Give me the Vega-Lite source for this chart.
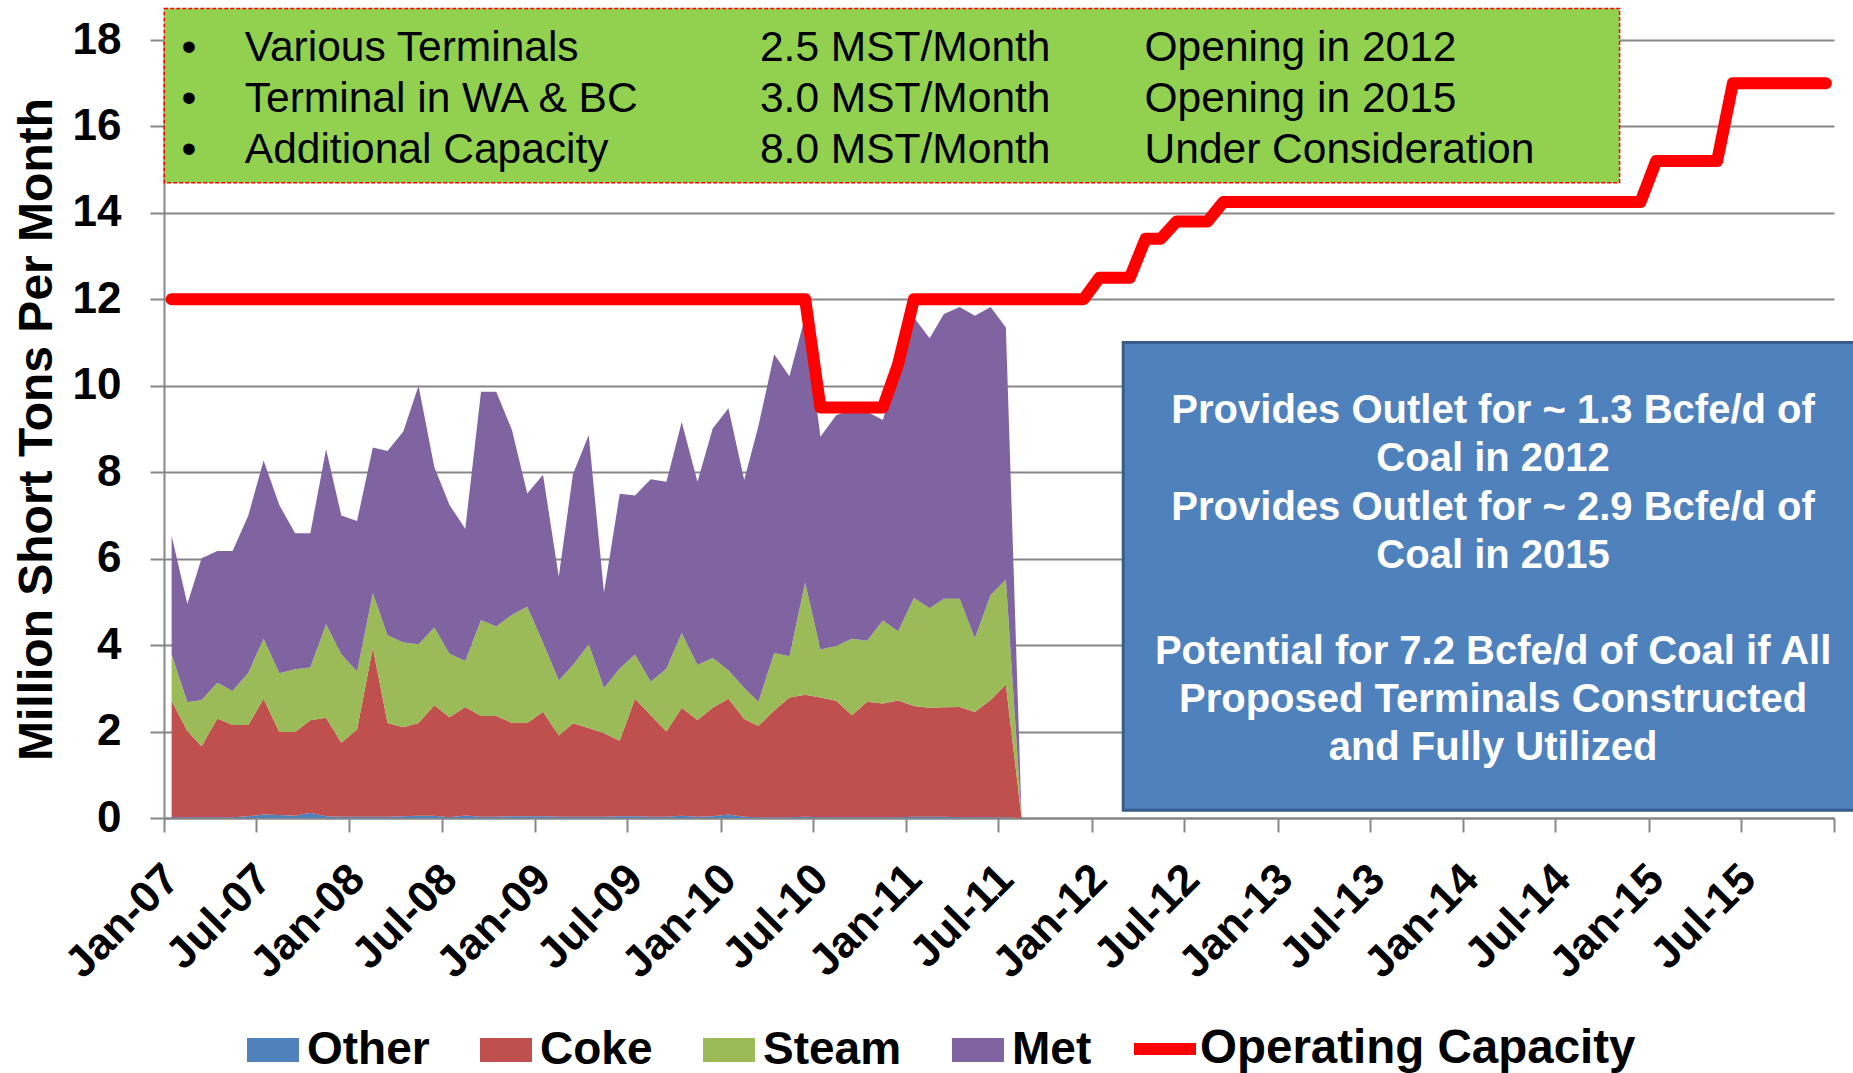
{
  "$schema": "https://vega.github.io/schema/vega-lite/v6.json",
  "width": 1670,
  "height": 778,
  "autosize": {"type": "none"},
  "padding": {"left": 164, "top": 40, "right": 19, "bottom": 255},
  "background": "white",
  "config": {
    "view": {"stroke": null},
    "font": "Liberation Sans",
    "text": {"font": "Liberation Sans"},
    "axis": {"labelFont": "Liberation Sans", "titleFont": "Liberation Sans"},
    "legend": {"labelFont": "Liberation Sans"}
  },
  "datasets": {
    "ord": [
      {"key": "Other", "k": 1},
      {"key": "Coke", "k": 2},
      {"key": "Steam", "k": 3},
      {"key": "Met", "k": 4}
    ],
    "coal": [
      {"m": "2007-01-16", "Other": 0.02, "Coke": 2.69, "Steam": 1.08, "Met": 2.74},
      {"m": "2007-02-16", "Other": 0.02, "Coke": 1.99, "Steam": 0.67, "Met": 2.27},
      {"m": "2007-03-16", "Other": 0.02, "Coke": 1.64, "Steam": 1.07, "Met": 3.28},
      {"m": "2007-04-16", "Other": 0.02, "Coke": 2.28, "Steam": 0.83, "Met": 3.05},
      {"m": "2007-05-16", "Other": 0.02, "Coke": 2.13, "Steam": 0.79, "Met": 3.24},
      {"m": "2007-06-16", "Other": 0.04, "Coke": 2.11, "Steam": 1.21, "Met": 3.64},
      {"m": "2007-07-16", "Other": 0.08, "Coke": 2.68, "Steam": 1.39, "Met": 4.12},
      {"m": "2007-08-16", "Other": 0.07, "Coke": 1.92, "Steam": 1.36, "Met": 3.89},
      {"m": "2007-09-16", "Other": 0.05, "Coke": 1.94, "Steam": 1.45, "Met": 3.15},
      {"m": "2007-10-16", "Other": 0.12, "Coke": 2.14, "Steam": 1.22, "Met": 3.11},
      {"m": "2007-11-16", "Other": 0.04, "Coke": 2.28, "Steam": 2.16, "Met": 4.05},
      {"m": "2007-12-16", "Other": 0.03, "Coke": 1.71, "Steam": 2.05, "Met": 3.21},
      {"m": "2008-01-16", "Other": 0.03, "Coke": 2.02, "Steam": 1.34, "Met": 3.48},
      {"m": "2008-02-16", "Other": 0.03, "Coke": 3.91, "Steam": 1.26, "Met": 3.37},
      {"m": "2008-03-16", "Other": 0.03, "Coke": 2.17, "Steam": 2.03, "Met": 4.26},
      {"m": "2008-04-16", "Other": 0.04, "Coke": 2.06, "Steam": 1.96, "Met": 4.88},
      {"m": "2008-05-16", "Other": 0.05, "Coke": 2.15, "Steam": 1.82, "Met": 5.98},
      {"m": "2008-06-16", "Other": 0.05, "Coke": 2.56, "Steam": 1.80, "Met": 3.71},
      {"m": "2008-07-16", "Other": 0.02, "Coke": 2.31, "Steam": 1.47, "Met": 3.44},
      {"m": "2008-08-16", "Other": 0.06, "Coke": 2.51, "Steam": 1.06, "Met": 3.06},
      {"m": "2008-09-16", "Other": 0.03, "Coke": 2.33, "Steam": 2.22, "Met": 5.28},
      {"m": "2008-10-16", "Other": 0.03, "Coke": 2.33, "Steam": 2.07, "Met": 5.43},
      {"m": "2008-11-16", "Other": 0.04, "Coke": 2.16, "Steam": 2.50, "Met": 4.27},
      {"m": "2008-12-16", "Other": 0.04, "Coke": 2.16, "Steam": 2.69, "Met": 2.62},
      {"m": "2009-01-16", "Other": 0.04, "Coke": 2.42, "Steam": 1.60, "Met": 3.88},
      {"m": "2009-02-16", "Other": 0.03, "Coke": 1.88, "Steam": 1.27, "Met": 2.40},
      {"m": "2009-03-16", "Other": 0.03, "Coke": 2.16, "Steam": 1.35, "Met": 4.42},
      {"m": "2009-04-16", "Other": 0.03, "Coke": 2.05, "Steam": 1.94, "Met": 4.84},
      {"m": "2009-05-16", "Other": 0.03, "Coke": 1.93, "Steam": 1.05, "Met": 2.21},
      {"m": "2009-06-16", "Other": 0.04, "Coke": 1.75, "Steam": 1.67, "Met": 4.04},
      {"m": "2009-07-16", "Other": 0.04, "Coke": 2.72, "Steam": 1.02, "Met": 3.68},
      {"m": "2009-08-16", "Other": 0.03, "Coke": 2.35, "Steam": 0.77, "Met": 4.69},
      {"m": "2009-09-16", "Other": 0.03, "Coke": 1.97, "Steam": 1.46, "Met": 4.32},
      {"m": "2009-10-16", "Other": 0.05, "Coke": 2.50, "Steam": 1.73, "Met": 4.88},
      {"m": "2009-11-16", "Other": 0.03, "Coke": 2.24, "Steam": 1.27, "Met": 4.24},
      {"m": "2009-12-16", "Other": 0.04, "Coke": 2.51, "Steam": 1.15, "Met": 5.31},
      {"m": "2010-01-16", "Other": 0.08, "Coke": 2.68, "Steam": 0.66, "Met": 6.06},
      {"m": "2010-02-16", "Other": 0.03, "Coke": 2.26, "Steam": 0.72, "Met": 4.81},
      {"m": "2010-03-16", "Other": 0.02, "Coke": 2.11, "Steam": 0.56, "Met": 6.38},
      {"m": "2010-04-16", "Other": 0.02, "Coke": 2.47, "Steam": 1.33, "Met": 6.91},
      {"m": "2010-05-16", "Other": 0.02, "Coke": 2.77, "Steam": 0.95, "Met": 6.48},
      {"m": "2010-06-16", "Other": 0.03, "Coke": 2.82, "Steam": 2.60, "Met": 6.15},
      {"m": "2010-07-16", "Other": 0.02, "Coke": 2.77, "Steam": 1.11, "Met": 4.92},
      {"m": "2010-08-16", "Other": 0.02, "Coke": 2.69, "Steam": 1.27, "Met": 5.34},
      {"m": "2010-09-16", "Other": 0.02, "Coke": 2.36, "Steam": 1.77, "Met": 5.30},
      {"m": "2010-10-16", "Other": 0.02, "Coke": 2.67, "Steam": 1.41, "Met": 5.30},
      {"m": "2010-11-16", "Other": 0.02, "Coke": 2.63, "Steam": 1.92, "Met": 4.64},
      {"m": "2010-12-16", "Other": 0.02, "Coke": 2.70, "Steam": 1.60, "Met": 6.13},
      {"m": "2011-01-16", "Other": 0.03, "Coke": 2.56, "Steam": 2.50, "Met": 6.49},
      {"m": "2011-02-16", "Other": 0.03, "Coke": 2.52, "Steam": 2.30, "Met": 6.25},
      {"m": "2011-03-16", "Other": 0.03, "Coke": 2.53, "Steam": 2.51, "Met": 6.59},
      {"m": "2011-04-16", "Other": 0.02, "Coke": 2.55, "Steam": 2.50, "Met": 6.75},
      {"m": "2011-05-16", "Other": 0.02, "Coke": 2.43, "Steam": 1.71, "Met": 7.46},
      {"m": "2011-06-16", "Other": 0.02, "Coke": 2.71, "Steam": 2.43, "Met": 6.66},
      {"m": "2011-07-16", "Other": 0.02, "Coke": 3.07, "Steam": 2.43, "Met": 5.83},
      {"m": "2011-08-16", "Other": 0, "Coke": 0, "Steam": 0, "Met": 0}
    ],
    "cap": [
      {"m": "2007-01-16", "capacity": 12}, {"m": "2007-02-16", "capacity": 12}, {"m": "2007-03-16", "capacity": 12},
      {"m": "2007-04-16", "capacity": 12}, {"m": "2007-05-16", "capacity": 12}, {"m": "2007-06-16", "capacity": 12},
      {"m": "2007-07-16", "capacity": 12}, {"m": "2007-08-16", "capacity": 12}, {"m": "2007-09-16", "capacity": 12},
      {"m": "2007-10-16", "capacity": 12}, {"m": "2007-11-16", "capacity": 12}, {"m": "2007-12-16", "capacity": 12},
      {"m": "2008-01-16", "capacity": 12}, {"m": "2008-02-16", "capacity": 12}, {"m": "2008-03-16", "capacity": 12},
      {"m": "2008-04-16", "capacity": 12}, {"m": "2008-05-16", "capacity": 12}, {"m": "2008-06-16", "capacity": 12},
      {"m": "2008-07-16", "capacity": 12}, {"m": "2008-08-16", "capacity": 12}, {"m": "2008-09-16", "capacity": 12},
      {"m": "2008-10-16", "capacity": 12}, {"m": "2008-11-16", "capacity": 12}, {"m": "2008-12-16", "capacity": 12},
      {"m": "2009-01-16", "capacity": 12}, {"m": "2009-02-16", "capacity": 12}, {"m": "2009-03-16", "capacity": 12},
      {"m": "2009-04-16", "capacity": 12}, {"m": "2009-05-16", "capacity": 12}, {"m": "2009-06-16", "capacity": 12},
      {"m": "2009-07-16", "capacity": 12}, {"m": "2009-08-16", "capacity": 12}, {"m": "2009-09-16", "capacity": 12},
      {"m": "2009-10-16", "capacity": 12}, {"m": "2009-11-16", "capacity": 12}, {"m": "2009-12-16", "capacity": 12},
      {"m": "2010-01-16", "capacity": 12}, {"m": "2010-02-16", "capacity": 12}, {"m": "2010-03-16", "capacity": 12},
      {"m": "2010-04-16", "capacity": 12}, {"m": "2010-05-16", "capacity": 12}, {"m": "2010-06-16", "capacity": 12},
      {"m": "2010-07-16", "capacity": 9.5}, {"m": "2010-08-16", "capacity": 9.5}, {"m": "2010-09-16", "capacity": 9.5},
      {"m": "2010-10-16", "capacity": 9.5}, {"m": "2010-11-16", "capacity": 9.5}, {"m": "2010-12-16", "capacity": 10.5},
      {"m": "2011-01-16", "capacity": 12}, {"m": "2011-02-16", "capacity": 12}, {"m": "2011-03-16", "capacity": 12},
      {"m": "2011-04-16", "capacity": 12}, {"m": "2011-05-16", "capacity": 12}, {"m": "2011-06-16", "capacity": 12},
      {"m": "2011-07-16", "capacity": 12}, {"m": "2011-08-16", "capacity": 12}, {"m": "2011-09-16", "capacity": 12},
      {"m": "2011-10-16", "capacity": 12}, {"m": "2011-11-16", "capacity": 12}, {"m": "2011-12-16", "capacity": 12},
      {"m": "2012-01-16", "capacity": 12.5}, {"m": "2012-02-16", "capacity": 12.5}, {"m": "2012-03-16", "capacity": 12.5},
      {"m": "2012-04-16", "capacity": 13.4}, {"m": "2012-05-16", "capacity": 13.4}, {"m": "2012-06-16", "capacity": 13.8},
      {"m": "2012-07-16", "capacity": 13.8}, {"m": "2012-08-16", "capacity": 13.8}, {"m": "2012-09-16", "capacity": 14.25},
      {"m": "2012-10-16", "capacity": 14.25}, {"m": "2012-11-16", "capacity": 14.25}, {"m": "2012-12-16", "capacity": 14.25},
      {"m": "2013-01-16", "capacity": 14.25}, {"m": "2013-02-16", "capacity": 14.25}, {"m": "2013-03-16", "capacity": 14.25},
      {"m": "2013-04-16", "capacity": 14.25}, {"m": "2013-05-16", "capacity": 14.25}, {"m": "2013-06-16", "capacity": 14.25},
      {"m": "2013-07-16", "capacity": 14.25}, {"m": "2013-08-16", "capacity": 14.25}, {"m": "2013-09-16", "capacity": 14.25},
      {"m": "2013-10-16", "capacity": 14.25}, {"m": "2013-11-16", "capacity": 14.25}, {"m": "2013-12-16", "capacity": 14.25},
      {"m": "2014-01-16", "capacity": 14.25}, {"m": "2014-02-16", "capacity": 14.25}, {"m": "2014-03-16", "capacity": 14.25},
      {"m": "2014-04-16", "capacity": 14.25}, {"m": "2014-05-16", "capacity": 14.25}, {"m": "2014-06-16", "capacity": 14.25},
      {"m": "2014-07-16", "capacity": 14.25}, {"m": "2014-08-16", "capacity": 14.25}, {"m": "2014-09-16", "capacity": 14.25},
      {"m": "2014-10-16", "capacity": 14.25}, {"m": "2014-11-16", "capacity": 14.25}, {"m": "2014-12-16", "capacity": 14.25},
      {"m": "2015-01-16", "capacity": 15.2}, {"m": "2015-02-16", "capacity": 15.2}, {"m": "2015-03-16", "capacity": 15.2},
      {"m": "2015-04-16", "capacity": 15.2}, {"m": "2015-05-16", "capacity": 15.2}, {"m": "2015-06-16", "capacity": 17},
      {"m": "2015-07-16", "capacity": 17}, {"m": "2015-08-16", "capacity": 17}, {"m": "2015-09-16", "capacity": 17},
      {"m": "2015-10-16", "capacity": 17}, {"m": "2015-11-16", "capacity": 17}, {"m": "2015-12-16", "capacity": 17}
    ]
  },
  "layer": [
    {
      "data": {"name": "coal"},
      "transform": [
        {"fold": ["Other", "Coke", "Steam", "Met"], "as": ["key", "value"]},
        {"lookup": "key", "from": {"data": {"name": "ord"}, "key": "key", "fields": ["k"]}}
      ],
      "mark": {"type": "area", "interpolate": "linear", "opacity": 1},
      "encoding": {
        "x": {
          "field": "m", "type": "temporal", "title": null,
          "scale": {"type": "utc", "domain": [{"year": 2007, "month": 1, "date": 1, "utc": true}, {"year": 2016, "month": 1, "date": 1, "utc": true}]},
          "axis": {
            "values": [
              {"year": 2007, "month": 1, "date": 1, "utc": true}, {"year": 2007, "month": 7, "date": 1, "utc": true},
              {"year": 2008, "month": 1, "date": 1, "utc": true}, {"year": 2008, "month": 7, "date": 1, "utc": true},
              {"year": 2009, "month": 1, "date": 1, "utc": true}, {"year": 2009, "month": 7, "date": 1, "utc": true},
              {"year": 2010, "month": 1, "date": 1, "utc": true}, {"year": 2010, "month": 7, "date": 1, "utc": true},
              {"year": 2011, "month": 1, "date": 1, "utc": true}, {"year": 2011, "month": 7, "date": 1, "utc": true},
              {"year": 2012, "month": 1, "date": 1, "utc": true}, {"year": 2012, "month": 7, "date": 1, "utc": true},
              {"year": 2013, "month": 1, "date": 1, "utc": true}, {"year": 2013, "month": 7, "date": 1, "utc": true},
              {"year": 2014, "month": 1, "date": 1, "utc": true}, {"year": 2014, "month": 7, "date": 1, "utc": true},
              {"year": 2015, "month": 1, "date": 1, "utc": true}, {"year": 2015, "month": 7, "date": 1, "utc": true},
              {"year": 2016, "month": 1, "date": 1, "utc": true}
            ],
            "labelExpr": "utcyear(datum.value) >= 2016 ? '' : utcFormat(datum.value, '%b-%y')",
            "labelAngle": -45, "labelAlign": "right", "labelBaseline": "middle",
            "labelFontSize": 44, "labelFontWeight": "bold", "labelColor": "black",
            "labelPadding": 40, "labelOffset": 8, "labelOverlap": false, "labelFlush": false,
            "tickSize": 14, "tickColor": "#868686", "tickWidth": 2,
            "domainColor": "#868686", "domainWidth": 2, "grid": false
          }
        },
        "y": {
          "field": "value", "type": "quantitative", "stack": "zero",
          "scale": {"domain": [0, 18], "nice": false},
          "title": "Million Short Tons Per Month",
          "axis": {
            "values": [0, 2, 4, 6, 8, 10, 12, 14, 16, 18],
            "grid": true, "gridColor": "#868686", "gridWidth": 2,
            "domainColor": "#868686", "domainWidth": 2,
            "tickColor": "#868686", "tickWidth": 2, "tickSize": 14,
            "labelFontSize": 44, "labelFontWeight": "bold", "labelColor": "black", "labelPadding": 29,
            "titleFontSize": 48, "titleFontWeight": "bold", "titleColor": "black", "titlePadding": 11
          }
        },
        "fill": {
          "field": "key", "type": "nominal",
          "scale": {"domain": ["Other", "Coke", "Steam", "Met"], "range": ["#4F81BD", "#C0504D", "#9BBB59", "#8064A2"]},
          "legend": {
            "title": null, "orient": "none", "legendX": 83, "legendY": 984, "direction": "horizontal",
            "symbolType": "M-1,-0.4615H1V0.4615H-1Z", "symbolSize": 2704, "symbolStrokeWidth": 0, "symbolOpacity": 1,
            "labelFontSize": 46, "labelFontWeight": "bold", "labelColor": "black", "labelOffset": 8,
            "columnPadding": 50, "padding": 0, "labelLimit": 600
          }
        },
        "order": {"field": "k", "type": "quantitative", "sort": "ascending"}
      }
    },
    {
      "data": {"values": [{}]},
      "mark": {"type": "rect", "fill": "#92D050", "stroke": "#FF0000", "strokeWidth": 1.5, "strokeDash": [4, 2]},
      "encoding": {
        "x": {"datum": {"year": 2007, "month": 1, "date": 1, "hours": 12, "utc": true}, "type": "temporal"},
        "x2": {"datum": {"year": 2014, "month": 11, "date": 5, "utc": true}},
        "y": {"datum": 18.73, "type": "quantitative"},
        "y2": {"datum": 14.70}
      }
    },
    {
      "data": {"values": [{}]},
      "mark": {"type": "text", "text": ["•", "•", "•"], "align": "center", "baseline": "middle", "fontSize": 42.5, "lineHeight": 51, "color": "black"},
      "encoding": {
        "x": {"datum": {"year": 2007, "month": 2, "date": 19, "utc": true}, "type": "temporal"},
        "y": {"datum": 17.81, "type": "quantitative"}
      }
    },
    {
      "data": {"values": [{}]},
      "mark": {"type": "text", "text": ["Various Terminals", "Terminal in WA & BC", "Additional Capacity"], "align": "left", "baseline": "middle", "fontSize": 42.5, "lineHeight": 51, "color": "black"},
      "encoding": {
        "x": {"datum": {"year": 2007, "month": 6, "date": 9, "utc": true}, "type": "temporal"},
        "y": {"datum": 17.81, "type": "quantitative"}
      }
    },
    {
      "data": {"values": [{}]},
      "mark": {"type": "text", "text": ["2.5 MST/Month", "3.0 MST/Month", "8.0 MST/Month"], "align": "left", "baseline": "middle", "fontSize": 42.5, "lineHeight": 51, "color": "black"},
      "encoding": {
        "x": {"datum": {"year": 2010, "month": 3, "date": 19, "utc": true}, "type": "temporal"},
        "y": {"datum": 17.81, "type": "quantitative"}
      }
    },
    {
      "data": {"values": [{}]},
      "mark": {"type": "text", "text": ["Opening in 2012", "Opening in 2015", "Under Consideration"], "align": "left", "baseline": "middle", "fontSize": 42.5, "lineHeight": 51, "color": "black"},
      "encoding": {
        "x": {"datum": {"year": 2012, "month": 4, "date": 14, "utc": true}, "type": "temporal"},
        "y": {"datum": 17.81, "type": "quantitative"}
      }
    },
    {
      "data": {"values": [{}]},
      "mark": {"type": "rect", "fill": "#4F81BD", "stroke": "#385D8A", "strokeWidth": 3},
      "encoding": {
        "x": {"datum": {"year": 2012, "month": 3, "date": 3, "utc": true}, "type": "temporal"},
        "x2": {"datum": {"year": 2016, "month": 3, "date": 1, "utc": true}},
        "y": {"datum": 11.0, "type": "quantitative"},
        "y2": {"datum": 0.18}
      }
    },
    {
      "data": {"values": [{}]},
      "mark": {
        "type": "text",
        "text": ["Provides Outlet for ~ 1.3 Bcfe/d of", "Coal in 2012", "Provides Outlet for ~ 2.9 Bcfe/d of", "Coal in 2015"],
        "align": "center", "baseline": "middle", "fontSize": 40, "fontWeight": "bold", "lineHeight": 48.2, "color": "white"
      },
      "encoding": {
        "x": {"datum": {"year": 2014, "month": 3, "date": 1, "utc": true}, "type": "temporal"},
        "y": {"datum": 9.41, "type": "quantitative"}
      }
    },
    {
      "data": {"values": [{}]},
      "mark": {
        "type": "text",
        "text": ["Potential for 7.2 Bcfe/d of Coal if All", "Proposed Terminals Constructed", "and Fully Utilized"],
        "align": "center", "baseline": "middle", "fontSize": 40, "fontWeight": "bold", "lineHeight": 48.2, "color": "white"
      },
      "encoding": {
        "x": {"datum": {"year": 2014, "month": 3, "date": 1, "utc": true}, "type": "temporal"},
        "y": {"datum": 3.85, "type": "quantitative"}
      }
    },
    {
      "data": {"name": "cap"},
      "mark": {"type": "line", "strokeWidth": 12, "strokeCap": "round", "strokeJoin": "round", "interpolate": "linear"},
      "encoding": {
        "x": {"field": "m", "type": "temporal"},
        "y": {"field": "capacity", "type": "quantitative"},
        "stroke": {
          "datum": "Operating Capacity", "type": "nominal",
          "scale": {"range": ["#FF0000"]},
          "legend": {
            "title": null, "orient": "none", "legendX": 964, "legendY": 972,
            "symbolType": "stroke", "symbolSize": 3844, "symbolStrokeWidth": 12,
            "labelFontSize": 47.5, "labelFontWeight": "bold", "labelColor": "black", "labelOffset": -2,
            "padding": 0, "labelLimit": 800
          }
        }
      }
    }
  ]
}
